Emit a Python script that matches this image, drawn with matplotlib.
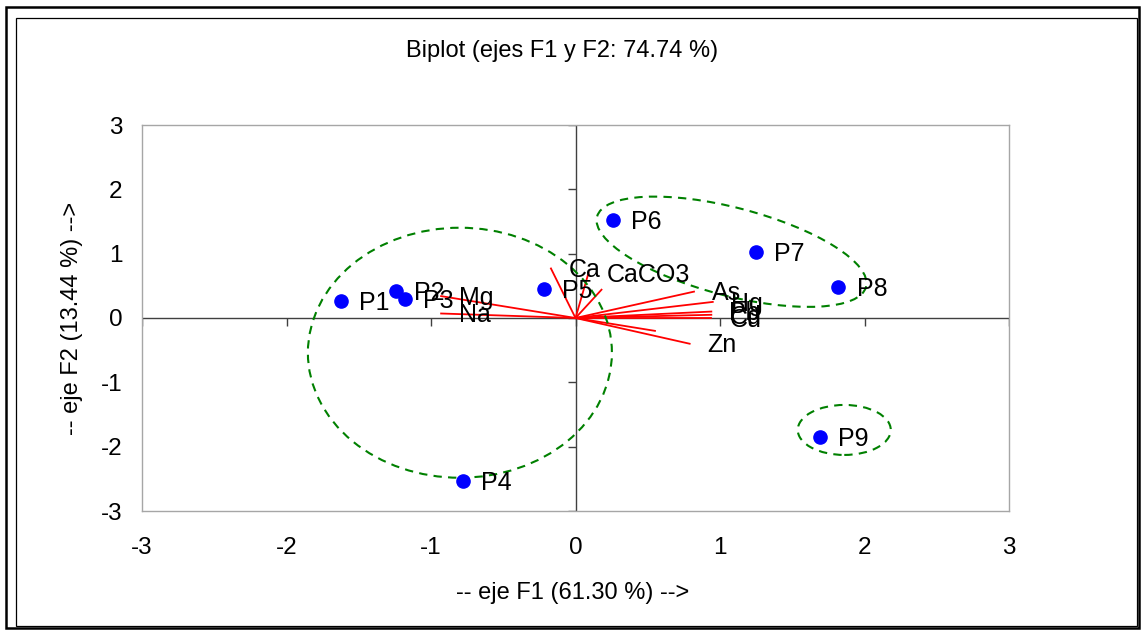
import matplotlib
matplotlib.use("Agg")
import matplotlib.pyplot as plt
import matplotlib.transforms as mtransforms
from matplotlib.patches import Ellipse, Rectangle

plt.rcParams['font.family'] = ['Liberation Sans', 'DejaVu Sans']
plt.rcParams['axes.unicode_minus'] = False

# observations (scores on F1 / F2)
obs_names = ['P1', 'P2', 'P3', 'P4', 'P5', 'P6', 'P7', 'P8', 'P9']
obs_f1 = [-1.62, -1.24, -1.18, -0.78, -0.22, 0.26, 1.25, 1.82, 1.69]
obs_f2 = [0.26, 0.42, 0.29, -2.54, 0.45, 1.52, 1.02, 0.48, -1.85]

# variables (loadings on F1 / F2), some vectors carry no visible label
var_names = ['Mg', 'Na', 'Ca', 'CaCO3', '', 'As', 'Hg', 'Pb', 'Cd', 'Cu', '', 'Zn']
var_f1 = [-0.93, -0.93, -0.17, 0.09, 0.18, 0.82, 0.95, 0.94, 0.94, 0.94, 0.55, 0.79]
var_f2 = [0.34, 0.07, 0.77, 0.70, 0.44, 0.41, 0.25, 0.10, 0.05, 0.00, -0.20, -0.40]

# groups drawn by hand: centre (F1, F2), width/height in pixels, angle
groups = [
    ((-0.80, -0.54), 304, 250, 0),
    ((1.08, 1.03), 278, 88, -14.6),
    ((1.86, -1.74), 93, 50, 0),
]

ticks = [-3, -2, -1, 0, 1, 2, 3]

W, H = 1143, 630
fig = plt.figure(figsize=(W / 100, H / 100), dpi=100)
ax = fig.add_axes([142 / W, 1 - 511 / H, 867 / W, 386 / H])
ax.set_xlim(-3, 3)
ax.set_ylim(-3, 3)

for s in ax.spines.values():
    s.set_color('#a6a6a6')
    s.set_linewidth(1.0)

ax.set_xticks(ticks)
ax.set_yticks(ticks)
ax.tick_params(axis='x', length=0, pad=19, labelsize=17.5)
ax.tick_params(axis='y', length=0, pad=14, labelsize=17.5)

# axes through the origin with little tick marks
ax.axhline(0, color='#404040', lw=1.0, zorder=1)
ax.axvline(0, color='#404040', lw=1.0, zorder=1)
ax.plot(ticks, [0] * len(ticks), ls='none', marker=3, ms=6, mew=1.0, color='#404040', zorder=1)
ax.plot([0] * len(ticks), ticks, ls='none', marker=0, ms=6, mew=1.0, color='#404040', zorder=1)

# variable vectors
for name, x, y in zip(var_names, var_f1, var_f2):
    ax.plot([0, x], [0, y], color='red', lw=1.3, zorder=2)
    if name:
        ax.annotate(name, (x, y), xytext=(13, -6.3), textcoords='offset points',
                    va='baseline', ha='left', fontsize=18, zorder=4)

# observations
ax.plot(obs_f1, obs_f2, ls='none', marker='o', ms=9.5, color='blue', zorder=3)
for name, x, y in zip(obs_names, obs_f1, obs_f2):
    ax.annotate(name, (x, y), xytext=(13, -6.3), textcoords='offset points',
                va='baseline', ha='left', fontsize=18, zorder=4)

# dashed group ellipses (sized in screen pixels so the tilt looks right)
for (cx, cy), w, h, ang in groups:
    tr = fig.dpi_scale_trans + mtransforms.ScaledTranslation(cx, cy, ax.transData)
    e = Ellipse((0, 0), w / 100, h / 100, angle=ang, transform=tr,
                fill=False, ec='#008000', lw=1.5, ls=(0, (4, 3)), zorder=2)
    ax.add_patch(e)

fig.text(562 / W, 1 - 51 / H, 'Biplot (ejes F1 y F2: 74.74 %)',
         ha='center', va='center', fontsize=17)
fig.text(573 / W, 1 - 593 / H, '-- eje F1 (61.30 %) -->',
         ha='center', va='center', fontsize=17)
fig.text(72 / W, 1 - 318 / H, '-- eje F2 (13.44 %) -->',
         ha='center', va='center', fontsize=17, rotation=90)

# chart frames
fig.patches.append(Rectangle((6 / W, 1 - 628 / H), 1133 / W, 621 / H, transform=fig.transFigure,
                             fill=False, ec='black', lw=1.8))
fig.patches.append(Rectangle((16 / W, 1 - 626 / H), 1121 / W, 608 / H, transform=fig.transFigure,
                             fill=False, ec='black', lw=0.9))

fig.savefig('out.png', dpi=100)
